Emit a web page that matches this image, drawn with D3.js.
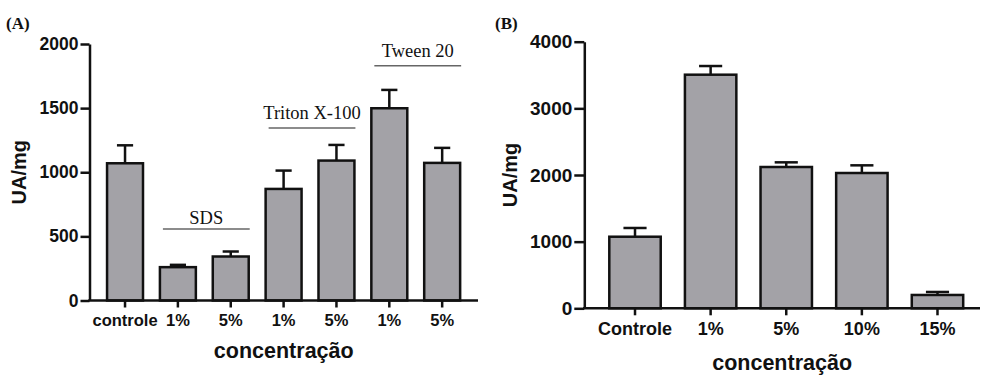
<!DOCTYPE html>
<html>
<head>
<meta charset="utf-8">
<script src="https://cdn.jsdelivr.net/npm/d3@7"></script>
<style>
  body { margin: 0; background: #fff; }
  svg text { fill: #111; }
</style>
</head>
<body>
<svg id="chart" width="981" height="376"></svg>
<script>
// panel A - surfactantes
const catsA = ["controle", "1%", "5%", "1%", "5%", "1%", "5%"];
const valsA = [1070, 260, 343, 870, 1091, 1499, 1073];
const errA = [140, 18, 39, 143, 122, 143, 117];
const groupNames = ["SDS", "Triton X-100", "Tween 20"];
const groupFirst = [1, 3, 5];
const groupLast = [2, 4, 6];
const groupLevel = [558, 1345, 1830];
const ticksA = [0, 500, 1000, 1500, 2000];

// panel B
const catsB = ["Controle", "1%", "5%", "10%", "15%"];
const valsB = [1074, 3505, 2120, 2030, 200];
const errB = [131, 130, 70, 115, 45];
const ticksB = [0, 1000, 2000, 3000, 4000];

const fill = "#a3a2a7";
const SANS = '"Liberation Sans", Arial, Helvetica, sans-serif';
const SERIF = '"Liberation Serif", "Times New Roman", serif';
const svg = d3.select("#chart");

function sans(sel, size) {
  return sel.attr("font-family", null).style("font-family", SANS)
    .style("font-weight", "bold").style("font-size", size + "px");
}

function panel(o) {
  const g = svg.append("g");
  const idx = o.cats.map((d, i) => i);
  const x = d3.scaleBand().domain(idx).range(o.xr).paddingInner(0.32).paddingOuter(0.16);
  const y = d3.scaleLinear().domain(o.yd).range(o.yr);
  const bw = x.bandwidth();

  // bars
  g.selectAll("rect.bar").data(o.vals).enter().append("rect")
    .attr("class", "bar")
    .attr("x", (d, i) => x(i))
    .attr("y", d => y(d))
    .attr("width", bw)
    .attr("height", d => y(0) - y(d))
    .attr("fill", fill)
    .attr("stroke", "#111")
    .attr("stroke-width", 2.5);

  // error bars (só para cima)
  const cap = bw * 0.45;
  o.vals.forEach((v, i) => {
    const cx = x(i) + bw / 2;
    g.append("line").attr("x1", cx).attr("x2", cx)
      .attr("y1", y(v)).attr("y2", y(v + o.err[i]))
      .attr("stroke", "#111").attr("stroke-width", 2.5);
    g.append("line").attr("x1", cx - cap / 2).attr("x2", cx + cap / 2)
      .attr("y1", y(v + o.err[i])).attr("y2", y(v + o.err[i]))
      .attr("stroke", "#111").attr("stroke-width", 2.5);
  });

  // y axis
  const ya = g.append("g").attr("transform", `translate(${o.ax},0)`)
    .call(d3.axisLeft(y).tickValues(o.ticks).tickFormat(d3.format("d"))
      .tickSize(o.ytick).tickSizeOuter(0).tickPadding(2));
  ya.attr("font-family", null);
  ya.selectAll("path, line").attr("stroke", "#111").attr("stroke-width", 2.5);
  sans(ya.selectAll("text"), o.yfs);

  // x axis
  const xa = g.append("g").attr("transform", `translate(0,${y(0)})`)
    .call(d3.axisBottom(x).tickFormat(i => o.cats[i]).tickSize(7).tickSizeOuter(0));
  xa.attr("font-family", null);
  xa.select(".domain").remove();
  xa.selectAll("line").attr("stroke", "#111").attr("stroke-width", 2.5);
  sans(xa.selectAll("text"), o.fs).attr("y", o.xlab).attr("dy", 0);
  g.append("line").attr("x1", o.ax - 1.25).attr("x2", o.xend)
    .attr("y1", y(0)).attr("y2", y(0))
    .attr("stroke", "#111").attr("stroke-width", 2.5);

  // titles
  sans(g.append("text"), 21.5)
    .attr("x", (o.ax + o.xend) / 2).attr("y", o.titleY)
    .attr("text-anchor", "middle")
    .text("concentração");
  sans(g.append("text"), 20)
    .attr("transform", `translate(${o.ylabX},${(o.yr[0] + o.yr[1]) / 2}) rotate(-90)`)
    .attr("text-anchor", "middle")
    .text("UA/mg");
  g.append("text")
    .attr("x", o.tagX).attr("y", 29)
    .style("font-family", SERIF)
    .style("font-size", "17px").style("font-weight", "bold")
    .text(o.tag);

  return { g, x, y, bw };
}

const A = panel({
  cats: catsA, vals: valsA, err: errA, ticks: ticksA,
  xr: [98.6, 468.6], yd: [0, 2000], yr: [300.5, 44],
  ax: 89.5, xend: 478, ytick: 9, fs: 16.5, yfs: 17.5, xlab: 25,
  titleY: 358, ylabX: 26, tag: "(A)", tagX: 6
});

// grupos do painel A
groupNames.forEach((name, k) => {
  const x1 = A.x(groupFirst[k]) + 3;
  const x2 = A.x(groupLast[k]) + A.bw + 1;
  const ly = A.y(groupLevel[k]);
  A.g.append("line").attr("x1", x1).attr("x2", x2)
    .attr("y1", ly).attr("y2", ly)
    .attr("stroke", "#666").attr("stroke-width", 1.5);
  A.g.append("text")
    .attr("x", (x1 + x2) / 2).attr("y", ly - (k === 0 ? 5 : 9))
    .attr("text-anchor", "middle")
    .style("font-family", SERIF).style("font-size", "18.5px")
    .text(name);
});

panel({
  cats: catsB, vals: valsB, err: errB, ticks: ticksB,
  xr: [597.2, 975.3], yd: [0, 4000], yr: [308.3, 41.7],
  ax: 584.3, xend: 980, ytick: 10, fs: 18, yfs: 19, xlab: 27,
  titleY: 370, ylabX: 517, tag: "(B)", tagX: 495
});
</script>
</body>
</html>
